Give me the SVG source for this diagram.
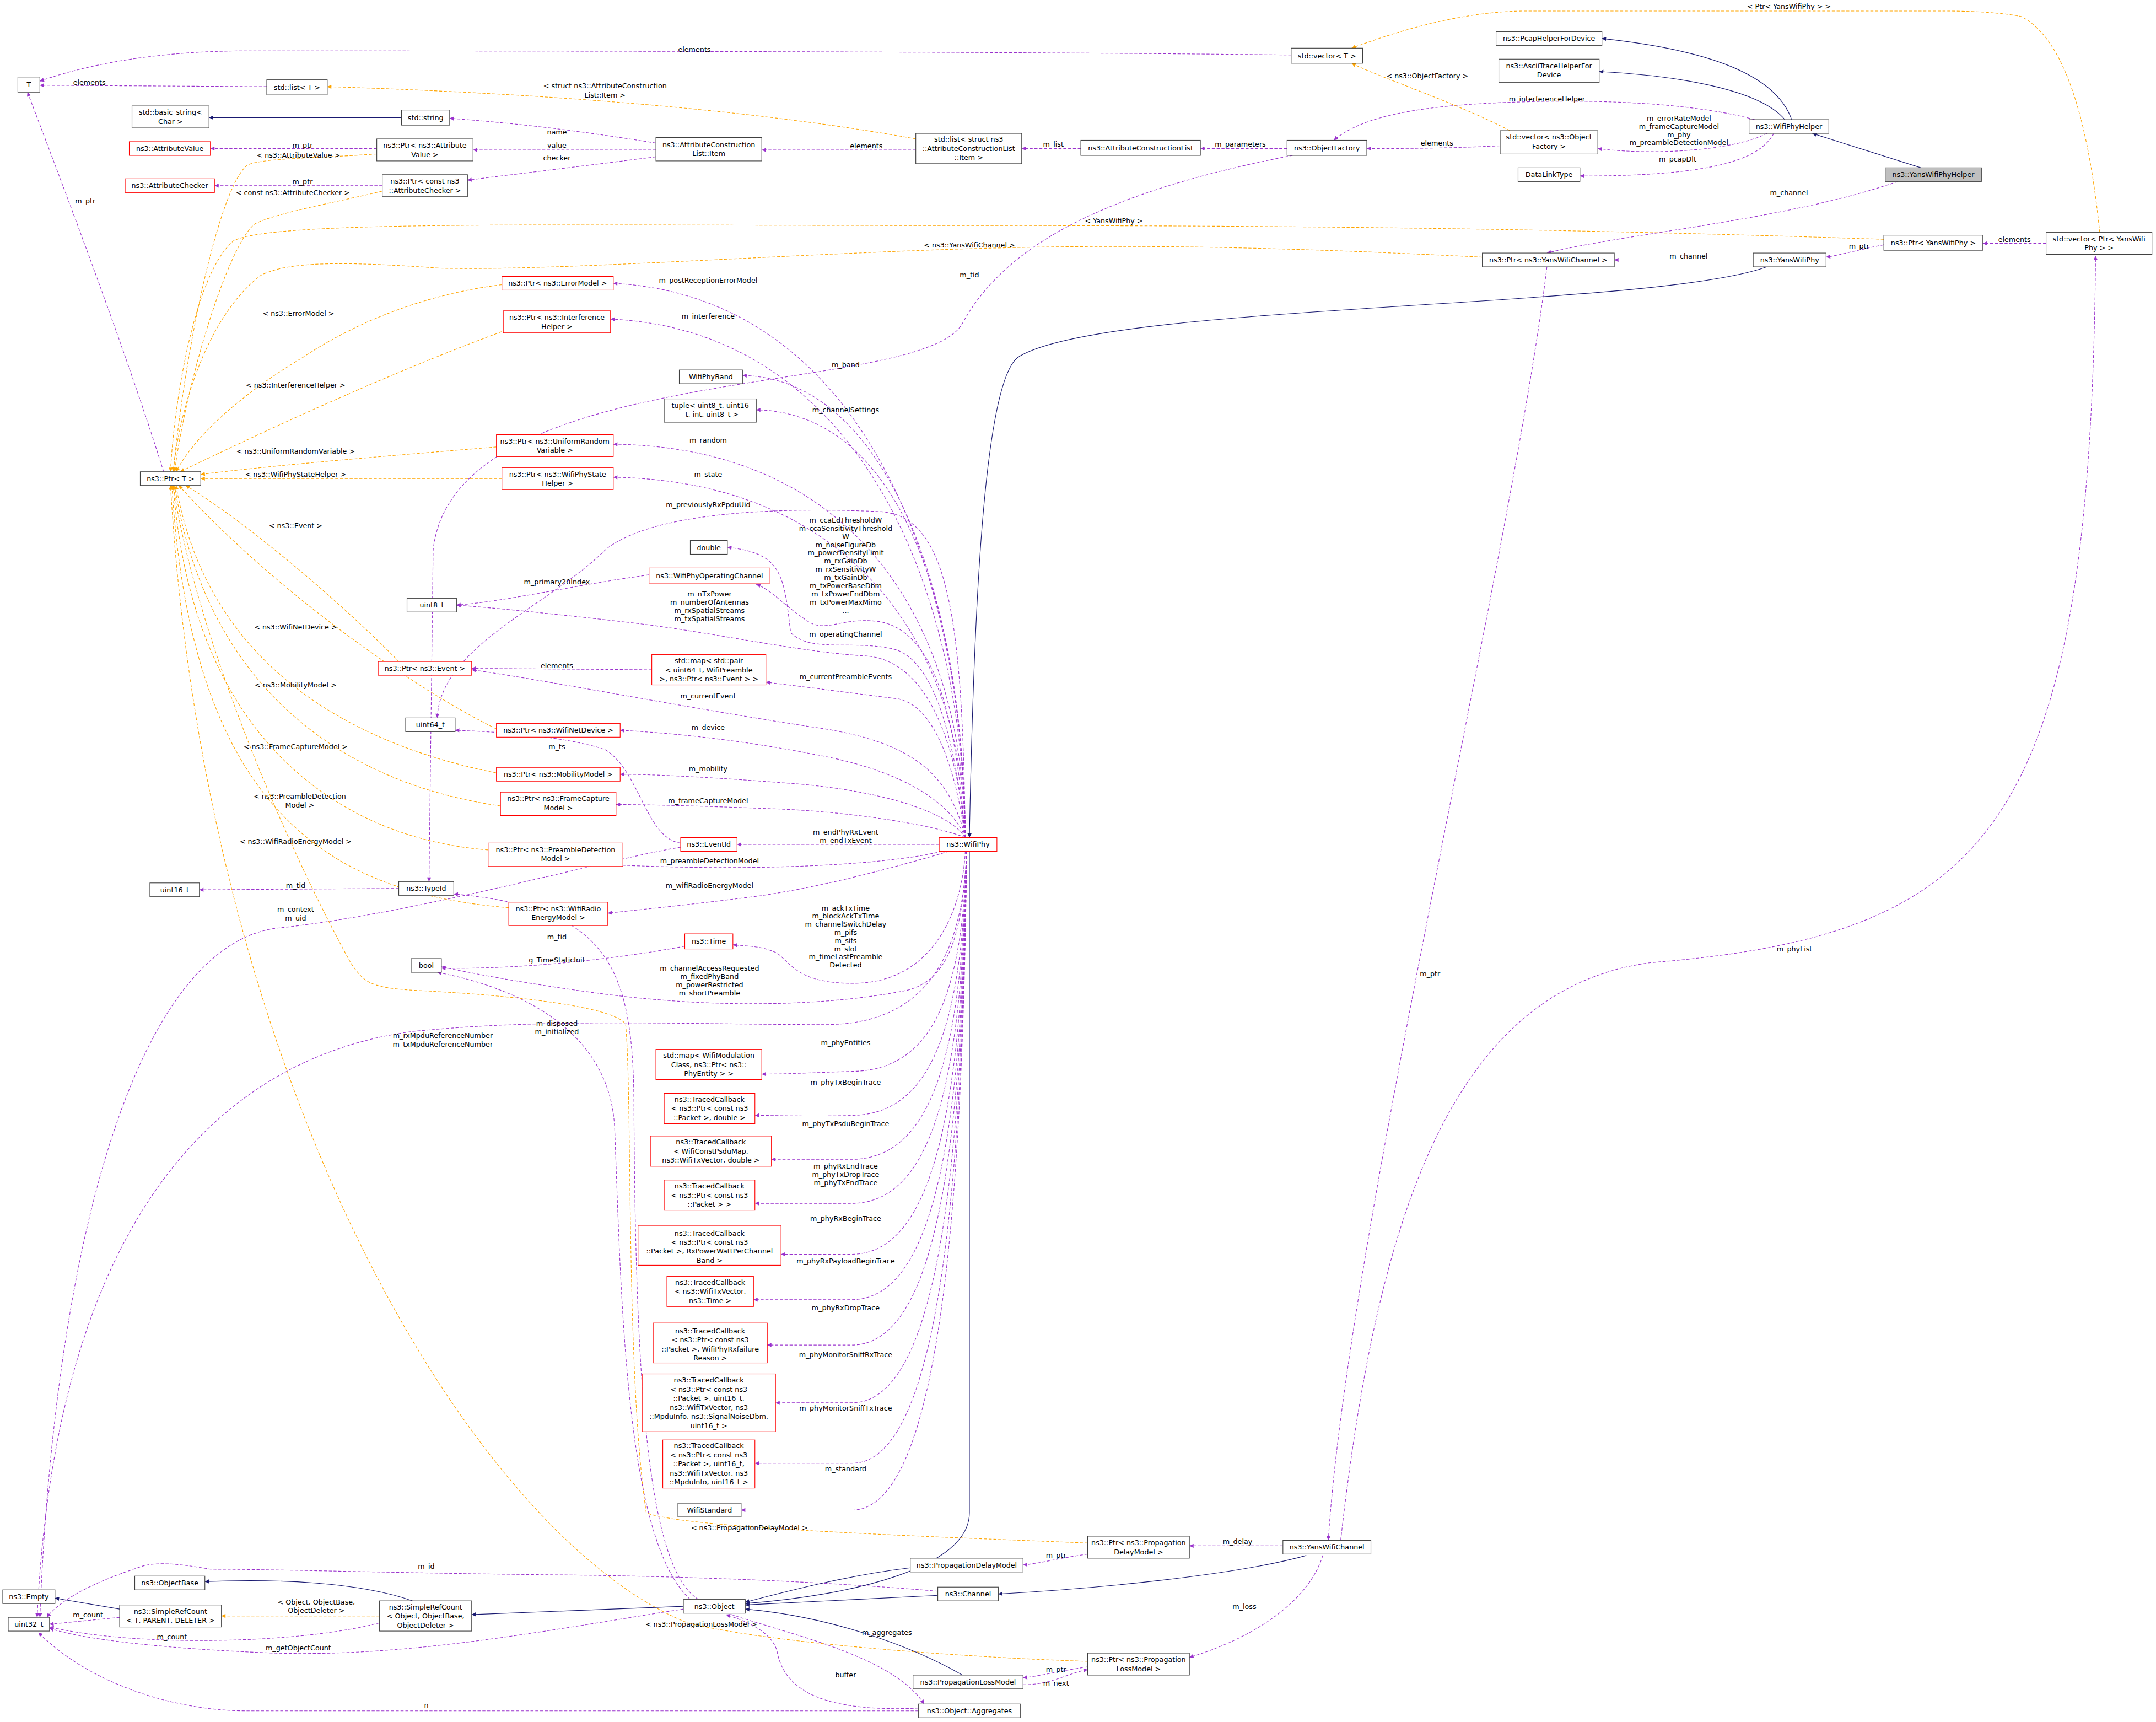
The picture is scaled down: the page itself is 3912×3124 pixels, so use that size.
<svg xmlns="http://www.w3.org/2000/svg" width="3912" height="3124" viewBox="0 0 3912 3124">
<defs>
<style>
.b{fill:#fff;stroke:#404040;stroke-width:0.45}
.r{fill:#fff;stroke:#ff0000;stroke-width:0.45}
.g{fill:#bfbfbf;stroke:#404040;stroke-width:0.45}
text{font-family:"DejaVu Sans","Liberation Sans",sans-serif;font-size:5.1px;fill:#000;text-anchor:middle}
.l{dominant-baseline:central}
.p{fill:none;stroke:#9a32cd;stroke-width:0.45;stroke-dasharray:2.2,1.3;marker-end:url(#ap)}
.o{fill:none;stroke:#ffa500;stroke-width:0.45;stroke-dasharray:2.2,1.3;marker-end:url(#ao)}
.n{fill:none;stroke:#191970;stroke-width:0.45;marker-end:url(#an)}
</style>
<marker id="ap" viewBox="0 0 10 10" refX="10" refY="5" markerWidth="4" markerHeight="3" markerUnits="userSpaceOnUse" orient="auto"><path d="M0,0L10,5L0,10z" fill="#9a32cd"/></marker>
<marker id="ao" viewBox="0 0 10 10" refX="10" refY="5" markerWidth="4" markerHeight="3" markerUnits="userSpaceOnUse" orient="auto"><path d="M0,0L10,5L0,10z" fill="#ffa500"/></marker>
<marker id="an" viewBox="0 0 10 10" refX="10" refY="5" markerWidth="4" markerHeight="3" markerUnits="userSpaceOnUse" orient="auto"><path d="M0,0L10,5L0,10z" fill="#191970"/></marker>
</defs>
<rect width="3912" height="3124" fill="#fff"/>
<g transform="scale(2.495)">
<g id="connectors">
<path class="p" d="M939,40 C700,37 250,37 180,37 C110,37 60,48 29,59"/><text class="l" x="505" y="36">elements</text>
<path class="p" d="M194,63 L29,62"/><text class="l" x="65" y="60">elements</text>
<path class="p" d="M274,108 L153,108"/><text class="l" x="220" y="105.5">m_ptr</text>
<path class="p" d="M278,135 L156,135"/><text class="l" x="220" y="132">m_ptr</text>
<path class="p" d="M119,343 C90,250 40,120 20,67"/><text class="l" x="62" y="146">m_ptr</text>
<path class="p" d="M477,104 C420,95 380,90 327,86"/><text class="l" x="405" y="96">name</text>
<path class="p" d="M477,109 L344,109"/><text class="l" x="405" y="105.5">value</text>
<path class="p" d="M477,114 C430,120 380,126 340,131"/><text class="l" x="405" y="115">checker</text>
<path class="p" d="M666,109 L554,109"/><text class="l" x="630" y="106">elements</text>
<path class="p" d="M786,108 L743,108"/><text class="l" x="766" y="105">m_list</text>
<path class="p" d="M936,108 L873,108"/><text class="l" x="902" y="105">m_parameters</text>
<path class="p" d="M1091,106 C1050,108 1020,108 994,108"/><text class="l" x="1045" y="104">elements</text>
<path class="p" d="M1276,87 C1240,77 1180,72 1110,74 C1030,76 990,85 970,102"/><text class="l" x="1125" y="72">m_interferenceHelper</text>
<path class="p" d="M1285,97 C1260,110 1200,113 1162,108"/><text class="l" x="1221" y="86">m_errorRateModel</text><text class="l" x="1221" y="92">m_frameCaptureModel</text><text class="l" x="1221" y="98">m_phy</text><text class="l" x="1221" y="103.5">m_preambleDetectionModel</text>
<path class="p" d="M1290,97 C1280,115 1250,128 1149,128"/><text class="l" x="1220" y="115.5">m_pcapDlt</text>
<path class="p" d="M1380,132 C1300,160 1180,170 1125,184"/><text class="l" x="1301" y="140">m_channel</text>
<path class="p" d="M1275,189 L1174,189"/><text class="l" x="1228" y="186">m_channel</text>
<path class="p" d="M1370,178 C1350,182 1340,185 1328,187"/><text class="l" x="1352" y="179">m_ptr</text>
<path class="p" d="M1488,177 L1442,177"/><text class="l" x="1465" y="174">elements</text>
<path class="p" d="M940,113 C800,140 730,180 700,235 C670,290 330,260 315,400 L312,641"/><text class="l" x="705" y="200">m_tid</text>
<path class="p" d="M702,609 C700,400 620,215 446,206"/><text class="l" x="515" y="204">m_postReceptionErrorModel</text>
<path class="p" d="M702,609 C700,420 620,240 444,232"/><text class="l" x="515" y="230">m_interference</text>
<path class="p" d="M702,609 C700,420 640,275 540,273"/><text class="l" x="615" y="265">m_band</text>
<path class="p" d="M702,609 C700,430 650,300 550,298"/><text class="l" x="615" y="298">m_channelSettings</text>
<path class="p" d="M702,609 C700,450 620,325 446,323"/><text class="l" x="515" y="320">m_random</text>
<path class="p" d="M702,609 C700,470 620,350 446,347"/><text class="l" x="515" y="345">m_state</text>
<path class="p" d="M702,609 C700,450 690,375 640,372 C550,368 470,375 440,400 C400,440 320,470 318,522"/><text class="l" x="515" y="367">m_previouslyRxPpduUid</text>
<path class="p" d="M702,609 C695,540 680,480 650,472 C620,465 590,475 575,460 C570,420 570,402 529,398"/>
<text class="l" x="615" y="378">m_ccaEdThresholdW</text><text class="l" x="615" y="384">m_ccaSensitivityThreshold</text><text class="l" x="615" y="390">W</text><text class="l" x="615" y="396">m_noiseFigureDb</text><text class="l" x="615" y="402">m_powerDensityLimit</text><text class="l" x="615" y="408">m_rxGainDb</text><text class="l" x="615" y="414">m_rxSensitivityW</text><text class="l" x="615" y="420">m_txGainDb</text><text class="l" x="615" y="426">m_txPowerBaseDbm</text><text class="l" x="615" y="432">m_txPowerEndDbm</text><text class="l" x="615" y="438">m_txPowerMaxMimo</text><text class="l" x="615" y="444">...</text>
<path class="p" d="M702,609 C695,520 680,460 640,452 C610,448 600,462 585,450 C570,440 560,428 550,425"/><text class="l" x="615" y="461">m_operatingChannel</text>
<path class="p" d="M702,609 C695,530 670,480 630,477 C580,474 520,460 461,453 C400,446 360,442 332,440"/>
<text class="l" x="516" y="432">m_nTxPower</text><text class="l" x="516" y="438">m_numberOfAntennas</text><text class="l" x="516" y="444">m_rxSpatialStreams</text><text class="l" x="516" y="450">m_txSpatialStreams</text>
<path class="p" d="M702,609 C695,560 680,512 652,508 C620,504 590,500 557,496"/><text class="l" x="615" y="492">m_currentPreambleEvents</text>
<path class="p" d="M702,609 C690,560 660,540 600,530 C500,515 400,495 343,487"/><text class="l" x="515" y="506">m_currentEvent</text>
<path class="p" d="M702,609 C690,580 650,560 600,550 C540,538 490,533 451,531"/><text class="l" x="515" y="529">m_device</text>
<path class="p" d="M702,609 C690,590 640,575 580,570 C530,566 480,563 451,563"/><text class="l" x="515" y="559">m_mobility</text>
<path class="p" d="M702,609 C680,600 620,590 560,588 C510,586 470,585 448,585"/><text class="l" x="515" y="582">m_frameCaptureModel</text>
<path class="p" d="M683,614 L536,614"/><text class="l" x="615" y="605">m_endPhyRxEvent</text><text class="l" x="615" y="611">m_endTxEvent</text>
<path class="p" d="M685,619 C650,628 560,634 450,629"/><text class="l" x="516" y="626">m_preambleDetectionModel</text>
<path class="p" d="M690,619 C660,628 600,645 548,652 C500,658 460,662 442,664"/><text class="l" x="516" y="644">m_wifiRadioEnergyModel</text>
<path class="p" d="M702,619 C700,660 680,715 620,715 C580,715 575,700 565,693 C555,688 545,688 533,687"/>
<text class="l" x="615" y="660.5">m_ackTxTime</text><text class="l" x="615" y="666">m_blockAckTxTime</text><text class="l" x="615" y="672">m_channelSwitchDelay</text><text class="l" x="615" y="678">m_pifs</text><text class="l" x="615" y="684">m_sifs</text><text class="l" x="615" y="690">m_slot</text><text class="l" x="615" y="695.5">m_timeLastPreamble</text><text class="l" x="615" y="701.5">Detected</text>
<path class="p" d="M703,619 C700,680 690,712 660,720 C600,732 520,733 441,723 C380,715 340,707 321,703"/>
<text class="l" x="516" y="704">m_channelAccessRequested</text><text class="l" x="516" y="710">m_fixedPhyBand</text><text class="l" x="516" y="716">m_powerRestricted</text><text class="l" x="516" y="722">m_shortPreamble</text>
<path class="p" d="M703,619 C700,700 670,745 600,745 C500,745 400,740 300,750 C150,770 40,900 27,1176"/><text class="l" x="322" y="753">m_rxMpduReferenceNumber</text><text class="l" x="322" y="759.5">m_txMpduReferenceNumber</text>
<path class="p" d="M703,619 C700,720 680,778 620,779 C590,780 570,781 554,781"/><text class="l" x="615" y="758">m_phyEntities</text>
<path class="p" d="M703,619 C700,740 680,810 620,811 C590,812 565,811 549,811"/><text class="l" x="615" y="787">m_phyTxBeginTrace</text>
<path class="p" d="M703,619 C700,760 680,842 620,843 L561,843"/><text class="l" x="615" y="817">m_phyTxPsduBeginTrace</text>
<path class="p" d="M703,619 C700,780 680,874 620,875 L549,875"/><text class="l" x="615" y="848">m_phyRxEndTrace</text><text class="l" x="615" y="854">m_phyTxDropTrace</text><text class="l" x="615" y="860">m_phyTxEndTrace</text>
<path class="p" d="M703,619 C700,800 680,911 620,912 L568,912"/><text class="l" x="615" y="886">m_phyRxBeginTrace</text>
<path class="p" d="M703,619 C700,820 680,944 620,945 L548,945"/><text class="l" x="615" y="917">m_phyRxPayloadBeginTrace</text>
<path class="p" d="M703,619 C700,840 680,977 620,978 L558,978"/><text class="l" x="615" y="951">m_phyRxDropTrace</text>
<path class="p" d="M703,619 C700,860 680,1019 620,1020 L564,1020"/><text class="l" x="615" y="985">m_phyMonitorSniffRxTrace</text>
<path class="p" d="M703,619 C700,880 680,1063 620,1064 L549,1064"/><text class="l" x="615" y="1024">m_phyMonitorSniffTxTrace</text>
<path class="p" d="M703,619 C700,900 680,1097 620,1098 L539,1098"/><text class="l" x="615" y="1068">m_standard</text>
<path class="p" d="M472,418 C420,425 370,437 332,440"/><text class="l" x="405" y="423">m_primary20Index</text>
<path class="p" d="M474,487 L343,486"/><text class="l" x="405" y="484">elements</text>
<path class="p" d="M495,613 C470,610 465,560 440,545 C410,535 360,532 331,531"/><text class="l" x="405" y="543">m_ts</text>
<path class="p" d="M495,616 C440,625 300,665 200,675 C100,690 40,900 29,1176"/><text class="l" x="215" y="661">m_context</text><text class="l" x="215" y="667.5">m_uid</text>
<path class="p" d="M290,646 L145,647"/><text class="l" x="215" y="644">m_tid</text>
<path class="p" d="M498,688 C450,697 380,705 321,704"/><text class="l" x="405" y="698">g_TimeStaticInit</text>
<path class="p" d="M508,1163 C470,1140 462,1000 461,800 C460,700 440,660 330,650"/><text class="l" x="405" y="681">m_tid</text>
<path class="p" d="M502,1163 C455,1120 452,950 447,820 C443,740 360,715 318,707"/><text class="l" x="405" y="744">m_disposed</text><text class="l" x="405" y="750">m_initialized</text>
<path class="p" d="M497,1170 C400,1185 300,1205 200,1202 C120,1199 60,1192 36,1184"/><text class="l" x="217" y="1198">m_getObjectCount</text>
<path class="p" d="M276,1180 C220,1195 100,1198 36,1183"/><text class="l" x="125" y="1190">m_count</text>
<path class="p" d="M87,1176 L36,1181"/><text class="l" x="64" y="1174">m_count</text>
<path class="p" d="M682,1157 C600,1150 500,1146 396,1145 C300,1144 200,1141 153,1141 C130,1137 112,1135 100,1140 C70,1150 45,1162 34,1176"/><text class="l" x="310" y="1139">m_id</text>
<path class="p" d="M668,1244 L180,1244 C120,1244 60,1220 28,1187"/><text class="l" x="310" y="1240">n</text>
<path class="p" d="M933,1124 L865,1124"/><text class="l" x="900" y="1121">m_delay</text>
<path class="p" d="M962,1131 C950,1170 900,1195 865,1205"/><text class="l" x="905" y="1168">m_loss</text>
<path class="p" d="M1125,194 C1100,400 980,900 966,1120"/><text class="l" x="1040" y="708">m_ptr</text>
<path class="p" d="M975,1120 C1000,900 1050,720 1200,700 C1450,680 1520,600 1524,186"/><text class="l" x="1305" y="690">m_phyList</text>
<path class="p" d="M791,1130 C770,1133 760,1136 744,1138"/><text class="l" x="768" y="1131">m_ptr</text>
<path class="p" d="M791,1212 C770,1215 760,1218 744,1220"/><text class="l" x="768" y="1214">m_ptr</text>
<path class="p" d="M744,1225 C765,1225 775,1217 791,1214"/><text class="l" x="768" y="1224">m_next</text>
<path class="p" d="M532,1174 C580,1190 650,1205 672,1239"/><text class="l" x="645" y="1187">m_aggregates</text>
<path class="p" d="M668,1242 C600,1245 570,1230 565,1200 C560,1185 540,1178 528,1174"/><text class="l" x="615" y="1218">buffer</text>
<path class="o" d="M666,101 C550,80 400,68 238,63"/><text class="l" x="440" y="62.5">&lt; struct ns3::AttributeConstruction</text><text class="l" x="440" y="69">List::Item &gt;</text>
<path class="o" d="M1098,95 C1060,75 1000,55 983,46"/><text class="l" x="1038" y="55">&lt; ns3::ObjectFactory &gt;</text>
<path class="o" d="M1527,169 C1520,100 1505,30 1470,12 C1450,8 1420,8 1413,8 L1110,8 C1060,8 1010,25 983,35"/><text class="l" x="1301" y="4.5">&lt; Ptr&lt; YansWifiPhy &gt; &gt;</text>
<path class="o" d="M1370,174 C1100,165 900,164 700,164 C400,164 200,160 170,175 C140,200 126,300 124,343"/><text class="l" x="810" y="160.5">&lt; YansWifiPhy &gt;</text>
<path class="o" d="M1078,187 C900,178 800,178 700,181 C550,186 400,197 320,195 C250,190 210,190 190,200 C150,230 130,300 126,343"/><text class="l" x="705" y="178">&lt; ns3::YansWifiChannel &gt;</text>
<path class="o" d="M274,112 C230,115 190,115 180,120 C160,135 135,250 126,343"/><text class="l" x="217" y="113">&lt; ns3::AttributeValue &gt;</text>
<path class="o" d="M278,139 C240,148 200,155 185,163 C165,180 135,280 127,343"/><text class="l" x="213" y="140">&lt; const ns3::AttributeChecker &gt;</text>
<path class="o" d="M365,207 C300,215 250,240 220,260 C170,290 140,320 128,343"/><text class="l" x="217" y="228">&lt; ns3::ErrorModel &gt;</text>
<path class="o" d="M368,240 C300,265 220,300 131,343"/><text class="l" x="215" y="280">&lt; ns3::InterferenceHelper &gt;</text>
<path class="o" d="M361,325 C300,330 200,338 146,345"/><text class="l" x="215" y="328">&lt; ns3::UniformRandomVariable &gt;</text>
<path class="o" d="M365,348 L146,348"/><text class="l" x="215" y="345">&lt; ns3::WifiPhyStateHelper &gt;</text>
<path class="o" d="M290,481 C250,440 180,380 135,353"/><text class="l" x="215" y="382">&lt; ns3::Event &gt;</text>
<path class="o" d="M361,530 C300,500 200,430 130,353"/><text class="l" x="215" y="456">&lt; ns3::WifiNetDevice &gt;</text>
<path class="o" d="M361,562 C250,540 150,480 128,353"/><text class="l" x="215" y="498">&lt; ns3::MobilityModel &gt;</text>
<path class="o" d="M364,586 C250,570 150,500 127,353"/><text class="l" x="215" y="543">&lt; ns3::FrameCaptureModel &gt;</text>
<path class="o" d="M355,618 C250,610 140,540 126,353"/><text class="l" x="218" y="579">&lt; ns3::PreambleDetection</text><text class="l" x="218" y="585.5">Model &gt;</text>
<path class="o" d="M370,660 C250,650 140,600 125,353"/><text class="l" x="215" y="612">&lt; ns3::WifiRadioEnergyModel &gt;</text>
<path class="o" d="M791,1122 C700,1118 500,1112 470,1100 C455,1000 460,800 455,745 C450,735 400,725 300,720 C270,718 265,715 255,700 C200,600 140,450 126,353"/><text class="l" x="545" y="1111">&lt; ns3::PropagationDelayModel &gt;</text>
<path class="o" d="M791,1208 C700,1205 560,1195 500,1180 C350,1120 150,800 124,353"/><text class="l" x="510" y="1181">&lt; ns3::PropagationLossModel &gt;</text>
<path class="o" d="M276,1175 L161,1175"/><text class="l" x="230" y="1165">&lt; Object, ObjectBase,</text><text class="l" x="230" y="1171">ObjectDeleter &gt;</text>
<path class="n" d="M292,85.5 L152,85.5"/>
<path class="n" d="M1303,87 C1290,50 1230,35 1165,28"/>
<path class="n" d="M1298,87 C1280,65 1220,55 1163,52"/>
<path class="n" d="M1397,122 L1318,97"/>
<path class="n" d="M1285,194 C1200,225 800,220 740,260 C715,280 708,450 705,609"/>
<path class="n" d="M705,619 L705,1100 C705,1140 620,1160 542,1166"/>
<path class="n" d="M497,1168 L343,1174"/>
<path class="n" d="M300,1164 C260,1150 200,1148 149,1150"/>
<path class="n" d="M87,1170 L40,1162"/>
<path class="n" d="M662,1140 C620,1145 580,1155 542,1165"/>
<path class="n" d="M682,1160 L542,1167"/>
<path class="n" d="M700,1218 C660,1195 600,1175 542,1170"/>
<path class="n" d="M950,1131 C900,1145 800,1155 726,1159"/>
</g>
<g id="n_T"><rect class="b" x="13" y="56" width="16" height="11"/><text x="21" y="63.3">T</text></g>
<g id="n_listT"><rect class="b" x="194" y="58" width="44" height="11"/><text x="216" y="65.3">std::list&lt; T &gt;</text></g>
<g id="n_bstr"><rect class="b" x="96" y="77" width="56" height="16"/><text x="124" y="83.5">std::basic_string&lt;</text><text x="124" y="90.1">Char &gt;</text></g>
<g id="n_str"><rect class="b" x="292" y="80" width="35" height="11"/><text x="309.5" y="87.3">std::string</text></g>
<g id="n_av"><rect class="r" x="94" y="103" width="59" height="10"/><text x="123.5" y="109.8">ns3::AttributeValue</text></g>
<g id="n_pav"><rect class="b" x="274" y="101" width="70" height="16"/><text x="309" y="107.5">ns3::Ptr&lt; ns3::Attribute</text><text x="309" y="114.1">Value &gt;</text></g>
<g id="n_ac"><rect class="r" x="91" y="130" width="65" height="10"/><text x="123.5" y="136.8">ns3::AttributeChecker</text></g>
<g id="n_pac"><rect class="b" x="278" y="127" width="62" height="16"/><text x="309" y="133.5">ns3::Ptr&lt; const ns3</text><text x="309" y="140.1">::AttributeChecker &gt;</text></g>
<g id="n_item"><rect class="b" x="477" y="100" width="77" height="17"/><text x="515.5" y="107">ns3::AttributeConstruction</text><text x="515.5" y="113.6">List::Item</text></g>
<g id="n_lstruct"><rect class="b" x="666" y="97" width="77" height="22"/><text x="704.5" y="103.2">std::list&lt; struct ns3</text><text x="704.5" y="109.8">::AttributeConstructionList</text><text x="704.5" y="116.4">::Item &gt;</text></g>
<g id="n_acl"><rect class="b" x="786" y="102" width="87" height="11"/><text x="829.5" y="109.3">ns3::AttributeConstructionList</text></g>
<g id="n_of"><rect class="b" x="936" y="102" width="58" height="11"/><text x="965" y="109.3">ns3::ObjectFactory</text></g>
<g id="n_vT"><rect class="b" x="939" y="35" width="52" height="11"/><text x="965" y="42.3">std::vector&lt; T &gt;</text></g>
<g id="n_pcap"><rect class="b" x="1088" y="23" width="77" height="10"/><text x="1126.5" y="29.8">ns3::PcapHelperForDevice</text></g>
<g id="n_ascii"><rect class="b" x="1090" y="43" width="73" height="17"/><text x="1126.5" y="49.5">ns3::AsciiTraceHelperFor</text><text x="1126.5" y="56.1">Device</text></g>
<g id="n_vof"><rect class="b" x="1091" y="95" width="71" height="17"/><text x="1126.5" y="101.5">std::vector&lt; ns3::Object</text><text x="1126.5" y="108.1">Factory &gt;</text></g>
<g id="n_dlt"><rect class="b" x="1104" y="122" width="45" height="10"/><text x="1126.5" y="128.8">DataLinkType</text></g>
<g id="n_wph"><rect class="b" x="1272" y="87" width="58" height="10"/><text x="1301" y="93.8">ns3::WifiPhyHelper</text></g>
<g id="n_ywph"><rect class="g" x="1371" y="122" width="70" height="10"/><text x="1406" y="128.8">ns3::YansWifiPhyHelper</text></g>
<g id="n_pywp"><rect class="b" x="1370" y="171" width="72" height="11"/><text x="1406" y="178.3">ns3::Ptr&lt; YansWifiPhy &gt;</text></g>
<g id="n_vpy"><rect class="b" x="1488" y="169" width="77" height="16"/><text x="1526.5" y="175.5">std::vector&lt; Ptr&lt; YansWifi</text><text x="1526.5" y="182.1">Phy &gt; &gt;</text></g>
<g id="n_pywc"><rect class="b" x="1078" y="184" width="96" height="10"/><text x="1126" y="190.8">ns3::Ptr&lt; ns3::YansWifiChannel &gt;</text></g>
<g id="n_ywp"><rect class="b" x="1275" y="184" width="53" height="10"/><text x="1301.5" y="190.8">ns3::YansWifiPhy</text></g>
<g id="n_ptrT"><rect class="b" x="102" y="343" width="44" height="10"/><text x="124" y="349.8">ns3::Ptr&lt; T &gt;</text></g>
<g id="n_pem"><rect class="r" x="365" y="201" width="81" height="10"/><text x="405.5" y="207.8">ns3::Ptr&lt; ns3::ErrorModel &gt;</text></g>
<g id="n_pih"><rect class="r" x="366" y="226" width="78" height="16"/><text x="405" y="232.5">ns3::Ptr&lt; ns3::Interference</text><text x="405" y="239.1">Helper &gt;</text></g>
<g id="n_purv"><rect class="r" x="361" y="316" width="85" height="16"/><text x="403.5" y="322.5">ns3::Ptr&lt; ns3::UniformRandom</text><text x="403.5" y="329.1">Variable &gt;</text></g>
<g id="n_psh"><rect class="r" x="365" y="340" width="81" height="16"/><text x="405.5" y="346.5">ns3::Ptr&lt; ns3::WifiPhyState</text><text x="405.5" y="353.1">Helper &gt;</text></g>
<g id="n_band"><rect class="b" x="494" y="269" width="46" height="10"/><text x="517" y="275.8">WifiPhyBand</text></g>
<g id="n_tuple"><rect class="b" x="483" y="290" width="67" height="17"/><text x="516.5" y="296.5">tuple&lt; uint8_t, uint16</text><text x="516.5" y="303.1">_t, int, uint8_t &gt;</text></g>
<g id="n_double"><rect class="b" x="502" y="393" width="27" height="10"/><text x="515.5" y="399.8">double</text></g>
<g id="n_opch"><rect class="r" x="472" y="413" width="88" height="11"/><text x="516" y="420.3">ns3::WifiPhyOperatingChannel</text></g>
<g id="n_u8"><rect class="b" x="296" y="435" width="36" height="10"/><text x="314" y="441.8">uint8_t</text></g>
<g id="n_mappair"><rect class="r" x="474" y="476" width="83" height="22"/><text x="515.5" y="482.2">std::map&lt; std::pair</text><text x="515.5" y="488.8">&lt; uint64_t, WifiPreamble</text><text x="515.5" y="495.4"> &gt;, ns3::Ptr&lt; ns3::Event &gt; &gt;</text></g>
<g id="n_pev"><rect class="r" x="275" y="481" width="68" height="10"/><text x="309" y="487.8">ns3::Ptr&lt; ns3::Event &gt;</text></g>
<g id="n_u64"><rect class="b" x="295" y="522" width="36" height="10"/><text x="313" y="528.8">uint64_t</text></g>
<g id="n_pnd"><rect class="r" x="361" y="526" width="90" height="10"/><text x="406" y="532.8">ns3::Ptr&lt; ns3::WifiNetDevice &gt;</text></g>
<g id="n_pmm"><rect class="r" x="361" y="558" width="90" height="10"/><text x="406" y="564.8">ns3::Ptr&lt; ns3::MobilityModel &gt;</text></g>
<g id="n_pfc"><rect class="r" x="364" y="576" width="84" height="17"/><text x="406" y="582.5">ns3::Ptr&lt; ns3::FrameCapture</text><text x="406" y="589.1">Model &gt;</text></g>
<g id="n_eid"><rect class="r" x="495" y="609" width="41" height="10"/><text x="515.5" y="615.8">ns3::EventId</text></g>
<g id="n_wifiphy"><rect class="r" x="683" y="609" width="42" height="10"/><text x="704" y="615.8">ns3::WifiPhy</text></g>
<g id="n_ppd"><rect class="r" x="355" y="613" width="98" height="17"/><text x="404" y="619.5">ns3::Ptr&lt; ns3::PreambleDetection</text><text x="404" y="626.1">Model &gt;</text></g>
<g id="n_tid"><rect class="b" x="290" y="641" width="40" height="10"/><text x="310" y="647.8">ns3::TypeId</text></g>
<g id="n_u16"><rect class="b" x="109" y="642" width="36" height="10"/><text x="127" y="648.8">uint16_t</text></g>
<g id="n_pre"><rect class="r" x="370" y="656" width="72" height="17"/><text x="406" y="662.5">ns3::Ptr&lt; ns3::WifiRadio</text><text x="406" y="669.1">EnergyModel &gt;</text></g>
<g id="n_time"><rect class="r" x="498" y="679" width="35" height="11"/><text x="515.5" y="686.3">ns3::Time</text></g>
<g id="n_bool"><rect class="b" x="299" y="697" width="22" height="10"/><text x="310" y="703.8">bool</text></g>
<g id="n_mapmod"><rect class="r" x="477" y="763" width="77" height="22"/><text x="515.5" y="769.2">std::map&lt; WifiModulation</text><text x="515.5" y="775.8">Class, ns3::Ptr&lt; ns3::</text><text x="515.5" y="782.4">PhyEntity &gt; &gt;</text></g>
<g id="n_tc1"><rect class="r" x="483" y="795" width="66" height="22"/><text x="516" y="801.2">ns3::TracedCallback</text><text x="516" y="807.8">&lt; ns3::Ptr&lt; const ns3</text><text x="516" y="814.4">::Packet &gt;, double &gt;</text></g>
<g id="n_tc2"><rect class="r" x="473" y="826" width="88" height="22"/><text x="517" y="832.2">ns3::TracedCallback</text><text x="517" y="838.8">&lt; WifiConstPsduMap,</text><text x="517" y="845.4">ns3::WifiTxVector, double &gt;</text></g>
<g id="n_tc3"><rect class="r" x="483" y="858" width="66" height="22"/><text x="516" y="864.2">ns3::TracedCallback</text><text x="516" y="870.8">&lt; ns3::Ptr&lt; const ns3</text><text x="516" y="877.4">::Packet &gt; &gt;</text></g>
<g id="n_tc4"><rect class="r" x="464" y="891" width="104" height="29"/><text x="516" y="898.4">ns3::TracedCallback</text><text x="516" y="905">&lt; ns3::Ptr&lt; const ns3</text><text x="516" y="911.6">::Packet &gt;, RxPowerWattPerChannel</text><text x="516" y="918.2">Band &gt;</text></g>
<g id="n_tc5"><rect class="r" x="485" y="928" width="63" height="22"/><text x="516.5" y="934.2">ns3::TracedCallback</text><text x="516.5" y="940.8">&lt; ns3::WifiTxVector,</text><text x="516.5" y="947.4">ns3::Time &gt;</text></g>
<g id="n_tc6"><rect class="r" x="475" y="962" width="83" height="29"/><text x="516.5" y="969.4">ns3::TracedCallback</text><text x="516.5" y="976">&lt; ns3::Ptr&lt; const ns3</text><text x="516.5" y="982.6">::Packet &gt;, WifiPhyRxfailure</text><text x="516.5" y="989.2">Reason &gt;</text></g>
<g id="n_tc7"><rect class="r" x="467" y="999" width="97" height="42"/><text x="515.5" y="1005.3">ns3::TracedCallback</text><text x="515.5" y="1011.9">&lt; ns3::Ptr&lt; const ns3</text><text x="515.5" y="1018.5">::Packet &gt;, uint16_t,</text><text x="515.5" y="1025.1">ns3::WifiTxVector, ns3</text><text x="515.5" y="1031.7">::MpduInfo, ns3::SignalNoiseDbm,</text><text x="515.5" y="1038.3">uint16_t &gt;</text></g>
<g id="n_tc8"><rect class="r" x="482" y="1047" width="67" height="35"/><text x="515.5" y="1053.1">ns3::TracedCallback</text><text x="515.5" y="1059.7">&lt; ns3::Ptr&lt; const ns3</text><text x="515.5" y="1066.3">::Packet &gt;, uint16_t,</text><text x="515.5" y="1072.9">ns3::WifiTxVector, ns3</text><text x="515.5" y="1079.5">::MpduInfo, uint16_t &gt;</text></g>
<g id="n_std"><rect class="b" x="493" y="1093" width="46" height="10"/><text x="516" y="1099.8">WifiStandard</text></g>
<g id="n_empty"><rect class="b" x="2" y="1156" width="38" height="10"/><text x="21" y="1162.8">ns3::Empty</text></g>
<g id="n_u32"><rect class="b" x="6" y="1176" width="30" height="10"/><text x="21" y="1182.8">uint32_t</text></g>
<g id="n_ob"><rect class="b" x="98" y="1146" width="51" height="10"/><text x="123.5" y="1152.8">ns3::ObjectBase</text></g>
<g id="n_srcT"><rect class="b" x="87" y="1167" width="74" height="16"/><text x="124" y="1173.5">ns3::SimpleRefCount</text><text x="124" y="1180.1">&lt; T, PARENT, DELETER &gt;</text></g>
<g id="n_srcO"><rect class="b" x="276" y="1164" width="67" height="22"/><text x="309.5" y="1170.2">ns3::SimpleRefCount</text><text x="309.5" y="1176.8">&lt; Object, ObjectBase,</text><text x="309.5" y="1183.4">ObjectDeleter &gt;</text></g>
<g id="n_obj"><rect class="b" x="497" y="1163" width="45" height="10"/><text x="519.5" y="1169.8">ns3::Object</text></g>
<g id="n_pdm"><rect class="b" x="662" y="1133" width="82" height="10"/><text x="703" y="1139.8">ns3::PropagationDelayModel</text></g>
<g id="n_ch"><rect class="b" x="682" y="1154" width="44" height="10"/><text x="704" y="1160.8">ns3::Channel</text></g>
<g id="n_ppdm"><rect class="b" x="791" y="1117" width="74" height="16"/><text x="828" y="1123.5">ns3::Ptr&lt; ns3::Propagation</text><text x="828" y="1130.1">DelayModel &gt;</text></g>
<g id="n_ywc"><rect class="b" x="933" y="1120" width="64" height="10"/><text x="965" y="1126.8">ns3::YansWifiChannel</text></g>
<g id="n_pplm"><rect class="b" x="791" y="1202" width="74" height="16"/><text x="828" y="1208.5">ns3::Ptr&lt; ns3::Propagation</text><text x="828" y="1215.1">LossModel &gt;</text></g>
<g id="n_plm"><rect class="b" x="664" y="1218" width="80" height="10"/><text x="704" y="1224.8">ns3::PropagationLossModel</text></g>
<g id="n_agg"><rect class="b" x="668" y="1239" width="74" height="10"/><text x="705" y="1245.8">ns3::Object::Aggregates</text></g>
</g>
</svg>
